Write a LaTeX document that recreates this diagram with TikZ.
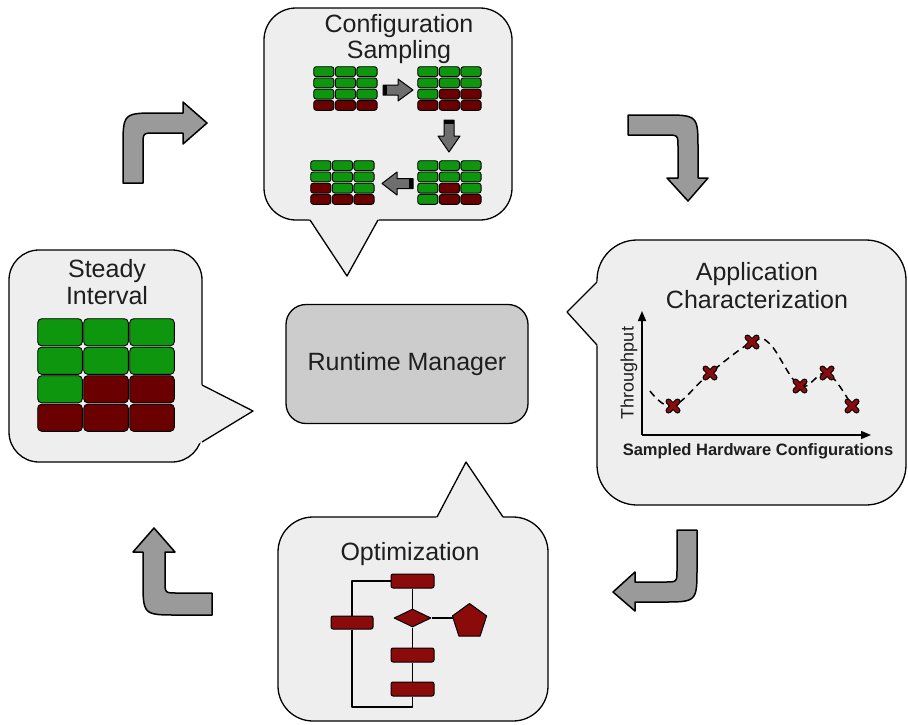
\documentclass[tikz,border=0pt]{standalone}
\usepackage{fontspec}
\setmainfont{Liberation Sans}
\usetikzlibrary{shapes.geometric,arrows.meta}

\definecolor{bubblefill}{HTML}{EEEEEE}
\definecolor{rmfill}{HTML}{CCCCCC}
\definecolor{cgreen}{HTML}{0E960E}
\definecolor{cred}{HTML}{6A0000}
\definecolor{fred}{HTML}{8B0A0A}
\definecolor{turnfill}{HTML}{9A9A9A}
\definecolor{steparrow}{HTML}{6E6E6E}
\definecolor{inktext}{HTML}{1E1E1E}

% 3x4 grid of rounded cells: #1,#2 top-left corner, #3,#4 cell size,
% #5 colours row by row, #6 corner radius
\newcommand\blockgrid[6]{%
  \foreach \cellcol [count=\i from 0] in {#5} {
    \pgfmathtruncatemacro\gc{mod(\i,3)}
    \pgfmathtruncatemacro\gr{floor(\i/3)}
    \draw[cell, rounded corners=#6, fill=\cellcol]
      ({#1+\gc*#3+0.7},{#2+\gr*#4+0.7}) rectangle ++({#3-1.4},{#4-1.4});
  }%
}

\begin{document}
\begin{tikzpicture}[x=1pt, y=-1pt, line join=round,
  bubble/.style={draw=black, line width=1.3pt, fill=bubblefill, inner sep=0pt},
  edge/.style={draw=black, line width=1.3pt},
  title/.style={font=\fontsize{25}{30}\selectfont, text=inktext, inner sep=0pt, anchor=base},
  cell/.style={draw=black, line width=0.9pt},
  turn/.style={fill=turnfill, draw=black, line width=1.5pt},
  stepper/.style={fill=steparrow, draw=black, line width=1pt},
  fcbox/.style={draw=black, line width=1pt, fill=fred, rounded corners=2pt,
    minimum width=43pt, minimum height=14pt, inner sep=0pt},
  flow/.style={draw=black, line width=1.6pt},
  axis/.style={draw=black, line width=1.5pt, -{Triangle[length=10pt,width=8pt]}},
  xpt/.pic={
    \draw[line width=6pt, line cap=round, black] (-4.5,-4.5) -- (4.5,4.5) (-4.5,4.5) -- (4.5,-4.5);
    \draw[line width=3.6pt, line cap=round, fred] (-4.5,-4.5) -- (4.5,4.5) (-4.5,4.5) -- (4.5,-4.5);
  }
]
\fill[white] (0,0) rectangle (908,724);
\useasboundingbox (0,0) rectangle (908,724);

% ---------- Configuration Sampling ----------
\node[bubble, rounded corners=32pt, minimum width=248pt, minimum height=212pt] (cfg) at (388,114) {};
\coordinate (cfgtip) at (347,276);
\fill[bubblefill] (308,217) -- (cfgtip) -- (380,217) -- cycle;
\draw[edge] (310,220) -- (cfgtip) -- (378,220);
\node[title] (cfgt1) at (399,32) {Configuration};
\node[title] (cfgt2) at (399,58) {Sampling};

\blockgrid{313}{66}{21.6}{11.25}{cgreen,cgreen,cgreen,cgreen,cgreen,cgreen,cgreen,cgreen,cgreen,cred,cred,cred}{2.5}
\blockgrid{417}{66}{21.6}{11.25}{cgreen,cgreen,cgreen,cgreen,cgreen,cgreen,cgreen,cred,cred,cred,cred,cred}{2.5}
\blockgrid{417}{160}{21.6}{11.25}{cgreen,cgreen,cgreen,cgreen,cgreen,cgreen,cgreen,cred,cgreen,cgreen,cred,cred}{2.5}
\blockgrid{310}{160}{21.6}{11.25}{cgreen,cgreen,cgreen,cgreen,cgreen,cgreen,cred,cgreen,cgreen,cred,cred,cred}{2.5}

% step arrows between the grids
\draw[stepper] (383,85) -- (398,85) -- (398,79) -- (413,90) -- (398,101) -- (398,95) -- (383,95) -- cycle;
\fill[black] (383,85) rectangle (387,95);
\draw[stepper] (444,120) -- (454,120) -- (454,136) -- (460,136) -- (449,152) -- (438,136) -- (444,136) -- cycle;
\fill[black] (444,120) rectangle (454,124);
\draw[stepper] (413,178.5) -- (397,178.5) -- (397,172) -- (382,183.5) -- (397,195) -- (397,188.5) -- (413,188.5) -- cycle;
\fill[black] (409,178.5) rectangle (413,188.5);

% ---------- Steady Interval ----------
\node[bubble, rounded corners=30pt, minimum width=193pt, minimum height=212pt] (steady) at (105.5,356) {};
\coordinate (steadytip) at (253,411);
\fill[bubblefill] (198,383) -- (steadytip) -- (198,444) -- cycle;
\draw[edge] (202,385) -- (steadytip) -- (202,442);
\node[title] (stt1) at (107,277) {Steady};
\node[title] (stt2) at (107,304) {Interval};
\blockgrid{37}{318}{46}{28.5}{cgreen,cgreen,cgreen,cgreen,cgreen,cgreen,cgreen,cred,cred,cred,cred,cred}{4}

% ---------- Application Characterization ----------
\node[bubble, rounded corners=40pt, minimum width=309pt, minimum height=265pt] (app) at (751.5,372.5) {};
\coordinate (apptip) at (567,312);
\fill[bubblefill] (600,279) -- (apptip) -- (600,348) -- cycle;
\draw[edge] (597,282) -- (apptip) -- (597,345);
\node[title] (appt1) at (757,280) {Application};
\node[title] (appt2) at (757,308) {Characterization};

\coordinate (orig) at (642,435);
\coordinate (ytop) at (642,311);
\coordinate (xend) at (871,435);
\draw[axis] (orig) -- (ytop);
\draw[axis] (orig) -- (xend);
\node[rotate=90, font=\fontsize{18}{20}\selectfont, text=inktext, inner sep=0pt] (ylab) at (629,373) {Throughput};
\node[font=\fontsize{16.5}{20}\selectfont\bfseries, text=inktext, inner sep=0pt, anchor=base] (xlab) at (758,455) {Sampled Hardware Configurations};

\coordinate (p1) at (673,406);
\coordinate (p2) at (710,373);
\coordinate (p3) at (752,342);
\coordinate (p4) at (800,386);
\coordinate (p5) at (827,373);
\coordinate (p6) at (852,406);
\draw[line width=1.5pt, dash pattern=on 7pt off 5pt]
  plot[smooth, tension=0.6] coordinates {(650,391) (p1) (p2) (p3) (770,344) (p4) (p5) (p6)};
\foreach \p in {p1,p2,p3,p4,p5,p6} \pic at (\p) {xpt};

% ---------- Optimization ----------
\node[bubble, rounded corners=35pt, minimum width=270pt, minimum height=204pt] (opt) at (413,619) {};
\coordinate (opttip) at (466,462);
\fill[bubblefill] (435,520.5) -- (opttip) -- (505,520.5) -- cycle;
\draw[edge] (437,517) -- (opttip) -- (503,517);
\node[title] (optt) at (410,560) {Optimization};

\node[fcbox] (r1) at (412.5,581) {};
\node[fcbox, minimum width=42pt, minimum height=13pt] (r2) at (352,622.5) {};
\node[diamond, draw=black, line width=1pt, fill=fred, minimum width=37pt, minimum height=18pt, inner sep=0pt] (dm) at (412.5,618) {};
\node[regular polygon, regular polygon sides=5, draw=black, line width=1pt, fill=fred, minimum size=36pt, inner sep=0pt] (pg) at (469.5,621.5) {};
\node[fcbox] (r3) at (412.5,655) {};
\node[fcbox] (r4) at (412.5,689) {};
\coordinate (loopbase) at (352,707);
\draw[flow] (r1.south) -- (dm.north);
\draw[flow] (dm.south) -- (r3.north);
\draw[flow] (r3.south) -- (r4.north);
\draw[flow] (dm.east) -- (dm.east -| pg.west);
\draw[flow] (r1.west) -| (r2.north);
\draw[flow] (r2.south) -- (loopbase) -| (r4.south);

% ---------- Runtime Manager ----------
\node[draw=black, line width=1.3pt, fill=rmfill, rounded corners=20pt,
  minimum width=242pt, minimum height=119pt,
  font=\fontsize{25}{30}\selectfont, text=inktext] (rm) at (407,364) {Runtime Manager};

% ---------- turning arrows of the cycle ----------
\draw[turn] (123,183) -- (123,148) .. controls (123,113) .. (158,113) -- (183,113) -- (183,102)
  -- (207,123) -- (183,144) -- (183,133) -- (155,133) .. controls (143,133) .. (143,145) -- (143,183) -- cycle;
\draw[turn] (628,115) -- (663,115) .. controls (698,115) .. (698,150) -- (698,178) -- (708,178)
  -- (688,201) -- (667,178) -- (678,178) -- (678,147) .. controls (678,135) .. (666,135) -- (628,135) -- cycle;
\draw[turn] (677,530) -- (697,530) -- (697,567) .. controls (697,602) .. (662,602) -- (635,602) -- (635,611)
  -- (613,592) -- (635,572) -- (635,582) -- (665,582) .. controls (677,582) .. (677,570) -- cycle;
\draw[turn] (212,593) -- (212,615) -- (178,615) .. controls (143,615) .. (143,580) -- (143,552) -- (133,552)
  -- (154,528) -- (175,552) -- (165,552) -- (165,581) .. controls (165,593) .. (177,593) -- cycle;
\end{tikzpicture}
\end{document}
